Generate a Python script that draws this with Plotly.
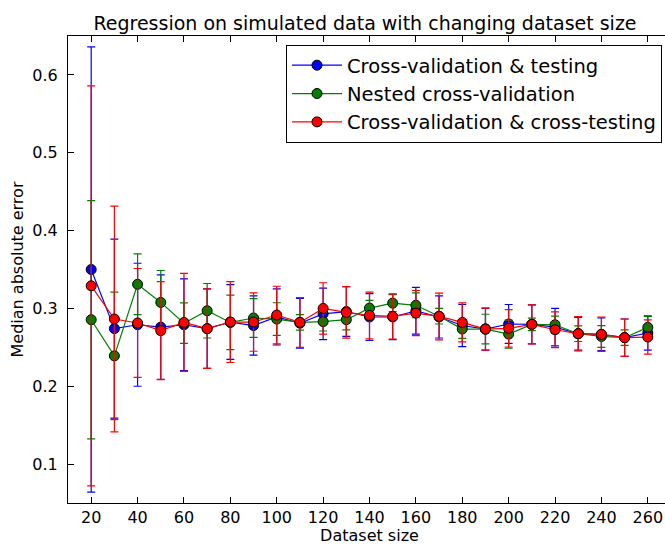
import plotly.graph_objects as go

sizes = [20, 30, 40, 50, 60, 70, 80, 90, 100, 110, 120, 130, 140, 150, 160, 170, 180, 190, 200, 210, 220, 230, 240, 250, 260]

cv_test = [0.350, 0.274, 0.279, 0.276, 0.279, 0.274, 0.2825, 0.278, 0.289, 0.281, 0.293, 0.296, 0.289, 0.289, 0.297, 0.289, 0.278, 0.2735, 0.280, 0.2795, 0.276, 0.2675, 0.2667, 0.2624, 0.2684]
cv_test_err = [0.286, 0.115, 0.079, 0.067, 0.059, 0.051, 0.048, 0.038, 0.036, 0.032, 0.033, 0.032, 0.030, 0.029, 0.030, 0.027, 0.027, 0.027, 0.025, 0.025, 0.024, 0.021, 0.021, 0.024, 0.022]

nested = [0.2855, 0.239, 0.331, 0.3077, 0.281, 0.297, 0.282, 0.2877, 0.2863, 0.282, 0.283, 0.2855, 0.3004, 0.3068, 0.304, 0.290, 0.2735, 0.2735, 0.267, 0.2795, 0.279, 0.2675, 0.264, 0.2624, 0.2756]
nested_err = [0.153, 0.082, 0.039, 0.041, 0.026, 0.035, 0.035, 0.025, 0.021, 0.010, 0.012, 0.013, 0.010, 0.011, 0.016, 0.010, 0.012, 0.019, 0.018, 0.008, 0.011, 0.010, 0.014, 0.010, 0.014]

cv_cross = [0.329, 0.2864, 0.2813, 0.2714, 0.282, 0.274, 0.2825, 0.2825, 0.2915, 0.282, 0.300, 0.2949, 0.291, 0.2897, 0.294, 0.2897, 0.282, 0.2735, 0.2744, 0.2795, 0.2726, 0.2675, 0.2667, 0.2624, 0.2632]
cv_cross_err = [0.257, 0.145, 0.070, 0.063, 0.063, 0.051, 0.052, 0.0375, 0.037, 0.032, 0.033, 0.033, 0.030, 0.029, 0.029, 0.030, 0.025, 0.027, 0.024, 0.025, 0.023, 0.022, 0.022, 0.024, 0.022]

series = [
    ("Cross-validation & testing", cv_test, cv_test_err, "#0000ff"),
    ("Nested cross-validation", nested, nested_err, "#008000"),
    ("Cross-validation & cross-testing", cv_cross, cv_cross_err, "#ff0000"),
]

fig = go.Figure()
for name, vals, errs, col in series:
    fig.add_trace(go.Scatter(
        x=sizes, y=vals, name=name, mode="lines+markers",
        line=dict(color=col, width=1.2),
        marker=dict(color=col, size=10, line=dict(color="black", width=1)),
        error_y=dict(type="data", array=errs, visible=True, color=col, thickness=1.2, width=4),
    ))

axis_common = dict(
    showline=True, linecolor="black", linewidth=1, mirror="allticks",
    ticks="inside", ticklen=6, tickcolor="black", showgrid=False, zeroline=False,
    tickfont=dict(size=16, color="black"), automargin=False,
)

W = 680
fig.update_layout(
    width=W, height=545,
    margin=dict(l=68, r=9, t=36, b=42),
    paper_bgcolor="white", plot_bgcolor="white",
    font=dict(family="DejaVu Sans", color="black"),
    title=dict(text="Regression on simulated data with changing dataset size",
               x=365/W, xanchor="center", y=1-23/545, yanchor="middle",
               xref="container", yref="container", font=dict(size=19)),
    xaxis=dict(range=[10, 270], tick0=20, dtick=20,
               title=dict(text="Dataset size", font=dict(size=16), standoff=13), **axis_common),
    yaxis=dict(range=[0.05, 0.65], tick0=0.1, dtick=0.1, ticklabelstandoff=6,
               title=dict(text="Median absolute error", font=dict(size=16), standoff=4), **axis_common),
    legend=dict(x=(662-68)/603, xanchor="right", y=1-9/467, yanchor="top",
                bordercolor="black", borderwidth=1, bgcolor="white",
                font=dict(size=19.5), itemwidth=50),
    showlegend=True,
)

fig.write_html("out.html", config={"displayModeBar": False},
               post_script="document.body.style.margin='0';document.body.style.overflow='hidden';document.documentElement.style.overflow='hidden';")
